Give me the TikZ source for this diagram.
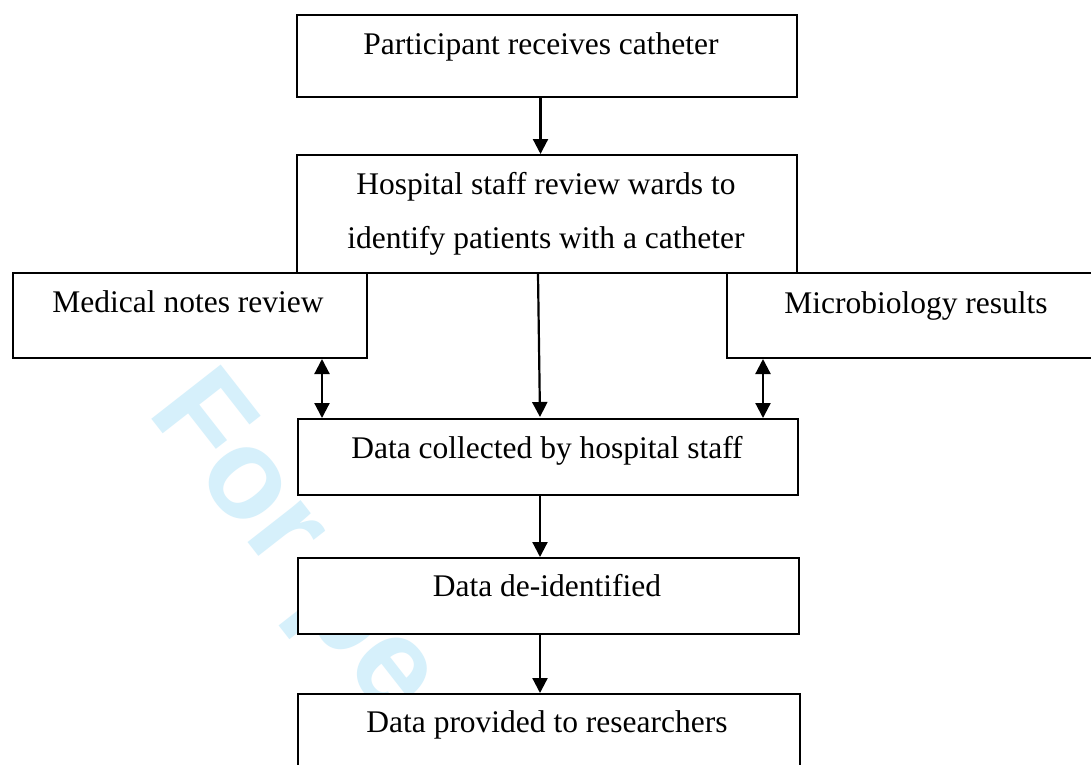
\documentclass[tikz,border=0pt]{standalone}
\usepackage{fontspec}
\setmainfont{Liberation Serif}
\newfontfamily\wmfont{Liberation Sans}
\usetikzlibrary{arrows.meta}
\definecolor{wmcyan}{RGB}{214,240,251}
\begin{document}
\begin{tikzpicture}[x=1pt,y=-1pt,
  flowbox/.style={draw=black, fill=white, line width=2pt, inner sep=0pt, anchor=north west},
  lbl/.style={anchor=base, inner sep=0pt, font=\fontsize{31.5}{54}\selectfont, align=center},
  conn/.style={line width=2.2pt, -{Triangle[width=15pt,length=15pt]}},
  dconn/.style={line width=2.2pt, {Triangle[width=15pt,length=15pt]}-{Triangle[width=15pt,length=15pt]}}
]
\useasboundingbox (0,0) rectangle (1091,764);
\fill[white] (0,0) rectangle (1091,764);

% watermark
\node[anchor=base west, inner sep=0pt, rotate=-52, text=wmcyan,
      font=\wmfont\bfseries\fontsize{128}{128}\selectfont] (wm) at (146,412) {For peer review};

% boxes
\node[flowbox, minimum width=500pt, minimum height=82pt] (b1) at (296,14) {};
\node[flowbox, minimum width=500pt, minimum height=118pt] (b2) at (296,154) {};
\node[flowbox, minimum width=354pt, minimum height=85pt] (bm) at (12,272) {};
\node[flowbox, minimum width=380pt, minimum height=85pt] (bb) at (726,272) {};
\node[flowbox, minimum width=500pt, minimum height=76pt] (b3) at (297,418) {};
\node[flowbox, minimum width=501pt, minimum height=76pt] (b4) at (297,557) {};
\node[flowbox, minimum width=502pt, minimum height=90pt] (b5) at (297,693) {};

% texts
\node[lbl] (t1) at (541,54) {Participant receives catheter};
\node[lbl] (t2) at (546,248) {Hospital staff review wards to\\identify patients with a catheter};
\node[lbl] (tm) at (188,312) {Medical notes review};
\node[lbl] (tb) at (916,313) {Microbiology results};
\node[lbl] (t3) at (547,458) {Data collected by hospital staff};
\node[lbl] (t4) at (547,596) {Data de-identified};
\node[lbl] (t5) at (547,732) {Data provided to researchers};

% connectors
\draw[conn] ([xshift=-6.5pt]b1.south) -- ([xshift=-6.5pt]b2.north);
\draw[conn] ([xshift=-9pt]b2.south) -- ([xshift=-8pt,yshift=1pt]b3.north);
\draw[dconn] (bm.south -| 322,0) -- (b3.north -| 322,0);
\draw[dconn] (bb.south -| 763,0) -- (b3.north -| 763,0);
\draw[conn] ([xshift=-8pt]b3.south) -- ([xshift=-8.5pt]b4.north);
\draw[conn] ([xshift=-8.5pt]b4.south) -- ([xshift=-9pt]b5.north);
\end{tikzpicture}
\end{document}
